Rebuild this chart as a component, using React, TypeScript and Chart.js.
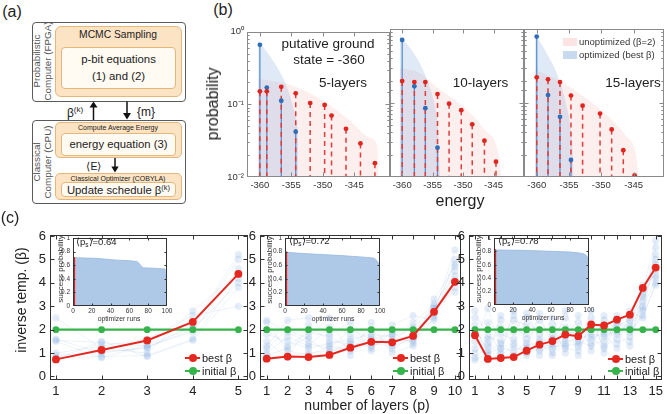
import React, { useEffect, useRef } from 'react';
import { Chart, registerables } from 'chart.js';

Chart.register(...registerables);

const FONT = '"Liberation Sans", Arial, Helvetica, sans-serif';

/* ---------------- panel (b): energy distributions ---------------- */
const energyTicks = [-360, -355, -350, -345];
const probMin = 0.01;
const probMax = 1;
const probTickLabels = ['10\u207B\u00B2', '10\u207B\u00B9', '10\u2070'];

// 5 layers
const b5RedE = [-360, -358.9, -356.6, -354.3, -352, -349.7, -348.6, -346.3, -344, -341.7];
const b5RedP = [0.151, 0.151, 0.174, 0.142, 0.104, 0.098, 0.07, 0.046, 0.029, 0.0155];
const b5BlueE = [-360, -358.9, -356.6, -354.3];
const b5BlueP = [0.66, 0.17, 0.112, 0.042];
const b5RedFillE = [-360.3, -357.5, -354.3, -349.8, -345.6, -342.5, -341.3, -341.15];
const b5RedFillP = [0.227, 0.205, 0.175, 0.11, 0.059, 0.035, 0.026, 0.0101];
const b5BlueFillE = [-360.27, -357.74, -356.16, -355.1, -354.3, -353.94, -353.88];
const b5BlueFillP = [0.77, 0.38, 0.216, 0.122, 0.066, 0.0317, 0.0101];

// 10 layers
const b10RedE = [-360, -358, -356.2, -354.2, -352.3, -350.3, -348.5, -346.5, -344.6];
const b10RedP = [0.198, 0.192, 0.192, 0.132, 0.098, 0.08, 0.0515, 0.031, 0.0161];
const b10BlueE = [-360, -358, -356.2, -354.2];
const b10BlueP = [0.71, 0.168, 0.085, 0.0249];
const b10RedFillE = [-360.4, -357, -354.1, -350.3, -346.4, -344.2, -343.7];
const b10RedFillP = [0.3, 0.25, 0.158, 0.094, 0.043, 0.021, 0.0101];
const b10BlueFillE = [-360.4, -357.4, -355.7, -354.6, -354.1, -353.8];
const b10BlueFillP = [0.83, 0.38, 0.185, 0.089, 0.043, 0.0101];

// 15 layers
const b15RedE = [-360, -358.25, -356.4, -354.7, -352.9, -350.2, -348.4, -346.6, -344.85];
const b15RedP = [0.222, 0.209, 0.192, 0.126, 0.092, 0.072, 0.044, 0.023, 0.0105];
const b15BlueE = [-360, -358.25, -356.4, -354.7];
const b15BlueP = [0.79, 0.128, 0.065, 0.017];
const b15RedFillE = [-360.3, -356.4, -353.8, -349.7, -346.1, -344.5, -344.3];
const b15RedFillP = [0.28, 0.2, 0.142, 0.076, 0.035, 0.017, 0.0101];
const b15BlueFillE = [-360.26, -358.45, -356.9, -355.6, -354.8, -354.4, -354.3];
const b15BlueFillP = [0.87, 0.47, 0.25, 0.11, 0.048, 0.021, 0.0101];

/* ---------------- panel (c): inverse temperature schedules ---------------- */
const betaTicks = [0, 1, 2, 3, 4, 5, 6];

const layers5 = [1, 2, 3, 4, 5];
const best5 = [0.73, 1.13, 1.54, 2.33, 4.38];
const initial5 = [2, 2, 2, 2, 2];
const runs5 = [
  [0.8, 0.85, 0.9, 1.6, 4.2],
  [1.55, 1.45, 1.3, 1.9, 4.6],
  [1.6, 1.0, 1.25, 2.0, 4.0],
  [0.75, 1.5, 0.85, 1.55, 3.8],
  [1.5, 0.8, 1.35, 2.1, 5.0],
  [2.5, 1.2, 1.0, 2.8, 4.4],
  [1.0, 1.3, 1.6, 2.6, 3.0],
  [0.9, 1.05, 1.2, 2.2, 5.2],
];

const layers10 = [1, 2, 3, 4, 5, 6, 7, 8, 9, 10];
const best10 = [0.76, 0.85, 0.83, 0.92, 1.23, 1.48, 1.46, 1.73, 2.76, 4.04];
const initial10 = [2, 2, 2, 2, 2, 2, 2, 2, 2, 2];
const runs10 = [
  [0.8, 0.9, 1.0, 1.1, 1.3, 1.5, 1.5, 1.8, 2.8, 4.1],
  [1.8, 1.5, 1.2, 1.4, 1.6, 1.8, 1.7, 2.0, 2.6, 4.5],
  [2.3, 1.1, 0.9, 1.3, 1.1, 1.4, 1.3, 1.6, 2.9, 3.8],
  [1.2, 2.0, 1.6, 1.0, 1.5, 1.2, 1.9, 1.4, 2.5, 5.0],
  [2.0, 1.3, 1.9, 1.7, 1.2, 1.7, 1.4, 2.3, 3.1, 4.3],
  [1.0, 1.7, 1.3, 2.1, 1.8, 1.3, 1.6, 1.5, 2.7, 5.4],
  [1.5, 0.8, 2.2, 1.5, 1.4, 2.0, 1.2, 1.7, 3.0, 3.6],
  [2.4, 1.9, 1.4, 1.2, 2.0, 1.6, 1.8, 2.1, 2.9, 4.8],
  [1.3, 2.4, 2.5, 1.8, 2.3, 1.1, 2.2, 2.6, 2.4, 4.0],
  [0.9, 1.2, 1.7, 2.5, 0.9, 2.3, 1.0, 1.3, 3.3, 4.7],
];

const layers15 = [1, 2, 3, 4, 5, 6, 7, 8, 9, 10, 11, 12, 13, 14, 15];
const best15 = [1.76, 0.75, 0.79, 0.83, 1.1, 1.36, 1.51, 1.79, 1.72, 2.22, 2.18, 2.43, 2.64, 3.78, 4.65];
const initial15 = [2, 2, 2, 2, 2, 2, 2, 2, 2, 2, 2, 2, 2, 2, 2];
const runs15 = [
  [0.7, 1.0, 1.2, 1.1, 1.3, 1.5, 1.6, 1.9, 1.8, 2.0, 2.1, 2.2, 2.4, 3.2, 4.8],
  [1.9, 1.4, 0.9, 1.3, 1.0, 1.2, 1.4, 1.5, 1.6, 1.8, 1.7, 2.0, 2.1, 2.9, 4.2],
  [2.8, 1.7, 1.5, 0.9, 1.6, 1.1, 1.3, 1.3, 1.4, 1.6, 1.9, 1.8, 2.2, 3.0, 5.5],
  [1.2, 2.3, 1.8, 1.6, 0.9, 1.4, 1.0, 1.7, 2.0, 1.4, 1.5, 2.3, 1.9, 2.6, 3.9],
  [2.2, 0.9, 2.6, 2.0, 1.8, 0.9, 1.8, 1.2, 1.1, 2.2, 1.3, 1.6, 2.5, 3.4, 4.5],
  [1.5, 2.9, 1.2, 2.4, 2.2, 2.0, 0.9, 2.1, 1.5, 1.3, 2.4, 1.4, 1.7, 2.8, 5.0],
  [0.8, 1.3, 2.1, 1.4, 2.5, 1.8, 2.2, 1.0, 2.3, 1.7, 1.2, 2.6, 1.5, 3.7, 5.8],
  [2.5, 2.0, 1.0, 2.8, 1.4, 2.4, 1.6, 2.5, 0.9, 2.5, 1.8, 1.2, 2.8, 2.5, 4.0],
  [1.0, 1.6, 2.4, 1.9, 2.7, 1.6, 2.5, 1.4, 2.6, 1.1, 2.6, 1.9, 1.3, 3.5, 5.2],
  [2.0, 1.1, 1.4, 2.6, 1.2, 2.7, 1.2, 2.8, 1.3, 2.8, 1.0, 2.4, 2.0, 3.9, 4.3],
];

/* ---------------- insets: success probability per optimizer run ---------------- */
const runTicks = [0, 20, 40, 60, 80, 100];
const succTicks = [0, 0.2, 0.4, 0.6, 0.8, 1];
const bestRunX = [0, 2.5];

const runsX1 = [0, 25, 33, 45, 60, 68, 70, 73, 75, 85, 97, 98, 99, 100];
const succ1 = [0.71, 0.7, 0.69, 0.675, 0.665, 0.655, 0.63, 0.58, 0.56, 0.555, 0.545, 0.54, 0.27, 0.26];
const bestSucc1 = 0.72;

const runsX2 = [0, 20, 40, 60, 80, 90, 94, 97, 99, 100];
const succ2 = [0.79, 0.77, 0.755, 0.74, 0.72, 0.71, 0.7, 0.66, 0.62, 0.55];
const bestSucc2 = 0.8;

const runsX3 = [0, 30, 60, 80, 90, 95, 97, 98, 100];
const succ3 = [0.82, 0.815, 0.8, 0.79, 0.775, 0.76, 0.74, 0.72, 0.63];
const bestSucc3 = 0.83;

/* ---------------- chart helpers ---------------- */
type Pad = { l: number; r: number; t: number; b: number };
type Area = { x: number; y: number; w: number; h: number };

const pts = (xs: number[], ys: number[]) => xs.map((x, i) => ({ x, y: ys[i] }));
const NO_GRID = { display: false, drawTicks: false, tickLength: 0 };

const framePlugin = {
  id: 'frame',
  beforeDatasetsDraw(chart: any, _a: any, o: any) {
    if (!o || !o.bg) return;
    const { ctx, chartArea: a } = chart;
    ctx.save();
    ctx.fillStyle = o.bg;
    ctx.fillRect(a.left, a.top, a.right - a.left, a.bottom - a.top);
    ctx.restore();
  },
  afterDatasetsDraw(chart: any, _a: any, o: any) {
    const { ctx, chartArea: a, scales } = chart;
    const L = Math.round(a.left) + 0.5;
    const R = Math.round(a.right) - 0.5;
    const T = Math.round(a.top) + 0.5;
    const B = Math.round(a.bottom) - 0.5;
    ctx.save();
    ctx.strokeStyle = o.color;
    ctx.lineWidth = 1;
    ctx.beginPath();
    const xs = scales.x;
    const ys = scales.y;
    xs.ticks.forEach((t: any) => {
      const p = Math.round(xs.getPixelForValue(t.value)) + 0.5;
      if (p < L - 0.5 || p > R + 0.5) return;
      ctx.moveTo(p, B);
      ctx.lineTo(p, B - o.len);
      ctx.moveTo(p, T);
      ctx.lineTo(p, T + o.len);
    });
    ys.ticks.forEach((t: any) => {
      const p = Math.round(ys.getPixelForValue(t.value)) + 0.5;
      if (p < T - 0.5 || p > B + 0.5) return;
      let len = o.len;
      if (o.log) {
        const lg = Math.log10(t.value);
        if (Math.abs(lg - Math.round(lg)) > 1e-6) len = o.len * 0.55;
      }
      ctx.moveTo(L, p);
      ctx.lineTo(L + len, p);
      ctx.moveTo(R, p);
      ctx.lineTo(R - len, p);
    });
    ctx.stroke();
    ctx.strokeRect(L, T, R - L, B - T);
    ctx.restore();
  },
};

function baseOptions(pad: Pad, frame: any) {
  return {
    responsive: false,
    animation: false,
    events: [],
    layout: { padding: { left: 0, right: pad.r, top: pad.t, bottom: 0 }, autoPadding: false },
    plugins: { legend: { display: false }, tooltip: { enabled: false }, frame },
  };
}

function energyConfig(
  redE: number[], redP: number[], blueE: number[], blueP: number[],
  redFE: number[], redFP: number[], blueFE: number[], blueFP: number[],
  xMin: number, xMax: number, showY: boolean, pad: Pad,
) {
  const stems = (xs: number[], ys: number[]) =>
    xs.flatMap((x, i) => [{ x, y: ys[i] }, { x, y: probMin }, { x, y: null as any }]);
  return {
    type: 'line',
    data: {
      datasets: [
        { data: pts(redFE, redFP), fill: 'start', backgroundColor: 'rgba(250,195,195,0.27)', borderWidth: 0, pointRadius: 0, cubicInterpolationMode: 'monotone', order: 20 },
        { data: pts(blueFE, blueFP), fill: 'start', backgroundColor: 'rgba(97,149,212,0.2)', borderWidth: 0, pointRadius: 0, cubicInterpolationMode: 'monotone', order: 19 },
        { data: stems(blueE, blueP), borderColor: '#5b8fd0', borderWidth: 1.3, pointRadius: 0, fill: false, spanGaps: false, order: 10 },
        { data: stems(redE, redP), borderColor: '#e23a36', borderWidth: 1.5, borderDash: [5, 4], pointRadius: 0, fill: false, spanGaps: false, order: 9 },
        { data: pts(blueE, blueP), showLine: false, pointRadius: 2.4, pointBackgroundColor: '#2f6db8', pointBorderWidth: 0, order: 2 },
        { data: pts(redE, redP), showLine: false, pointRadius: 2.4, pointBackgroundColor: '#e0241e', pointBorderWidth: 0, order: 1 },
      ],
    },
    options: {
      ...baseOptions(pad, { color: '#8a8a8a', len: 4, log: true }),
      scales: {
        x: {
          type: 'linear', min: xMin, max: xMax,
          grid: NO_GRID, border: { display: false },
          afterBuildTicks: (s: any) => { s.ticks = energyTicks.map((v) => ({ value: v })); },
          afterFit: (s: any) => { s.height = pad.b; },
          ticks: { font: { family: FONT, size: 9.5 }, color: '#333', padding: 3, maxRotation: 0, autoSkip: false, callback: (v: any) => String(v) },
        },
        y: {
          type: 'logarithmic', min: probMin, max: probMax,
          grid: NO_GRID, border: { display: false },
          afterFit: (s: any) => { s.width = pad.l; },
          ticks: {
            display: showY, autoSkip: false, font: { family: FONT, size: 9.5 }, color: '#333', padding: 3,
            callback: (v: any) => {
              const lg = Math.log10(Number(v));
              const r = Math.round(lg);
              return Math.abs(lg - r) < 1e-6 ? probTickLabels[r + 2] : '';
            },
          },
        },
      },
    },
    plugins: [framePlugin],
  };
}

function betaConfig(layers: number[], best: number[], initial: number[], runs: number[][], xMin: number, xMax: number, oddOnly: boolean, pad: Pad) {
  return {
    type: 'line',
    data: {
      datasets: [
        ...runs.map((r) => ({
          data: pts(layers, r), borderColor: 'rgba(120,165,220,0.13)', borderWidth: 1,
          pointRadius: 3.6, pointBackgroundColor: 'rgba(120,165,220,0.2)', pointBorderWidth: 0, order: 30,
        })),
        { data: pts(layers, initial), borderColor: '#36b34b', borderWidth: 2.3, pointRadius: 3.4, pointBackgroundColor: '#36b34b', pointBorderWidth: 0, order: 2 },
        { data: pts(layers, best), borderColor: '#e5281f', borderWidth: 2, pointRadius: 3.9, pointBackgroundColor: '#e5281f', pointBorderWidth: 0, order: 1 },
      ],
    },
    options: {
      ...baseOptions(pad, { color: '#333', len: 4 }),
      scales: {
        x: {
          type: 'linear', min: xMin, max: xMax,
          grid: NO_GRID, border: { display: false },
          afterBuildTicks: (s: any) => { s.ticks = layers.map((v) => ({ value: v })); },
          afterFit: (s: any) => { s.height = pad.b; },
          ticks: {
            font: { family: FONT, size: 13 }, color: '#222', padding: 4, maxRotation: 0, autoSkip: false,
            callback: (v: any) => (oddOnly && Number(v) % 2 === 0 ? '' : String(v)),
          },
        },
        y: {
          type: 'linear', min: -0.15, max: 6.05,
          grid: NO_GRID, border: { display: false },
          afterBuildTicks: (s: any) => { s.ticks = betaTicks.map((v) => ({ value: v })); },
          afterFit: (s: any) => { s.width = pad.l; },
          ticks: { font: { family: FONT, size: 13 }, color: '#222', padding: 4, autoSkip: false, callback: (v: any) => String(v) },
        },
      },
    },
    plugins: [framePlugin],
  };
}

function insetConfig(xs: number[], ys: number[], best: number, pad: Pad) {
  return {
    type: 'line',
    data: {
      datasets: [
        { data: pts(xs, ys), fill: 'origin', backgroundColor: 'rgba(160,192,228,0.85)', borderColor: 'rgba(150,185,225,1)', borderWidth: 0.8, pointRadius: 0, order: 5 },
        { data: pts(bestRunX, [best, best]), fill: 'origin', backgroundColor: '#e8231c', borderWidth: 0, pointRadius: 0, order: 1 },
      ],
    },
    options: {
      ...baseOptions(pad, { color: '#333', len: 2, bg: '#ffffff' }),
      scales: {
        x: {
          type: 'linear', min: 0, max: 100,
          grid: NO_GRID, border: { display: false },
          afterBuildTicks: (s: any) => { s.ticks = runTicks.map((v) => ({ value: v })); },
          afterFit: (s: any) => { s.height = pad.b; },
          ticks: { font: { family: FONT, size: 6.5 }, color: '#333', padding: 1, maxRotation: 0, autoSkip: false, callback: (v: any) => String(v) },
        },
        y: {
          type: 'linear', min: 0, max: 1,
          grid: NO_GRID, border: { display: false },
          afterBuildTicks: (s: any) => { s.ticks = succTicks.map((v) => ({ value: v })); },
          afterFit: (s: any) => { s.width = pad.l; },
          ticks: { font: { family: FONT, size: 6.5 }, color: '#333', padding: 3, autoSkip: false, callback: (v: any) => String(v) },
        },
      },
    },
    plugins: [framePlugin],
  };
}

function ChartCanvas({ area, pad, build }: { area: Area; pad: Pad; build: () => any }) {
  const ref = useRef<HTMLCanvasElement>(null);
  useEffect(() => {
    const chart = new Chart(ref.current as HTMLCanvasElement, build());
    return () => chart.destroy();
  }, []);
  const w = area.w + pad.l + pad.r;
  const h = area.h + pad.t + pad.b;
  return (
    <canvas
      ref={ref}
      width={w}
      height={h}
      style={{ position: 'absolute', left: area.x - pad.l, top: area.y - pad.t, width: w, height: h }}
    />
  );
}

/* ---------------- text helpers ---------------- */
function Txt({ x, y, size, children, anchor = 'middle', rot = false, color = '#222' }: any) {
  const tx = anchor === 'start' ? '0' : anchor === 'end' ? '-100%' : '-50%';
  return (
    <div
      style={{
        position: 'absolute', left: x, top: y, fontSize: size, lineHeight: 1, whiteSpace: 'nowrap', color,
        transform: `translate(${tx},-50%)${rot ? ' rotate(-90deg)' : ''}`,
      }}
    >
      {children}
    </div>
  );
}

function Rect({ x, y, w, h, bg, border, r }: any) {
  return (
    <div
      style={{
        position: 'absolute', left: x, top: y, width: w, height: h, background: bg,
        border: border ? `1px solid ${border}` : 'none', borderRadius: r, boxSizing: 'border-box',
      }}
    />
  );
}

const ORANGE = '#fce3c3';
const ORANGE_B = '#e5b77a';
const INNER = '#fffaf2';

function DiagramA() {
  return (
    <>
      <Rect x={31.5} y={21.5} w={154} h={80} bg="#fff" border="#5a5a5a" r={4} />
      <Rect x={55} y={26} w={127} h={71} bg={ORANGE} border={ORANGE_B} r={6} />
      <Rect x={61} y={46.5} w={115} h={42} bg={INNER} border={ORANGE_B} r={4} />
      <Rect x={31.5} y={120} w={154} h={84} bg="#fff" border="#5a5a5a" r={4} />
      <Rect x={55} y={121.5} w={127} h={36.5} bg={ORANGE} border={ORANGE_B} r={5} />
      <Rect x={61} y={132.5} w={115} h={23.5} bg={INNER} border={ORANGE_B} r={4} />
      <Rect x={55} y={172.5} w={127} h={27} bg={ORANGE} border={ORANGE_B} r={5} />
      <Rect x={61} y={181.5} w={115} h={15.5} bg={INNER} border={ORANGE_B} r={4} />
      <svg style={{ position: 'absolute', left: 0, top: 0 }} width={200} height={210}>
        <line x1={93.5} y1={120} x2={93.5} y2={106} stroke="#111" strokeWidth={1.5} />
        <polygon points="89.5,107.5 97.5,107.5 93.5,101.5" fill="#111" />
        <line x1={127} y1={101.5} x2={127} y2={114} stroke="#111" strokeWidth={1.5} />
        <polygon points="123,113 131,113 127,119.5" fill="#111" />
        <line x1={115} y1={158} x2={115} y2={167.5} stroke="#111" strokeWidth={1.5} />
        <polygon points="111.3,166.5 118.7,166.5 115,172.5" fill="#111" />
      </svg>
      <Txt x={12} y={12} size={16}>(a)</Txt>
      <Txt x={118} y={35} size={10.3}>MCMC Sampling</Txt>
      <Txt x={118.5} y={60} size={11.4}>p-bit equations</Txt>
      <Txt x={118.5} y={76.5} size={11.4}>(1) and (2)</Txt>
      <Txt x={37} y={61} size={9.8} rot color="#555">Probabilistic</Txt>
      <Txt x={48} y={61} size={9.8} rot color="#555">Computer (FPGA)</Txt>
      <Txt x={75} y={112} size={12}>
        {'\u03B2'}<span style={{ fontSize: 8, verticalAlign: 5 }}>(k)</span>
      </Txt>
      <Txt x={146} y={112} size={12}>{'{m}'}</Txt>
      <Txt x={118} y={127} size={7}>Compute Average Energy</Txt>
      <Txt x={118.5} y={145} size={11.3}>energy equation (3)</Txt>
      <Txt x={94} y={165.5} size={10.5}>{'\u27E8E\u27E9'}</Txt>
      <Txt x={118} y={177.5} size={7}>Classical Optimizer (COBYLA)</Txt>
      <Txt x={118.5} y={189.5} size={11.3}>
        Update schedule {'\u03B2'}<span style={{ fontSize: 7.5, verticalAlign: 4 }}>(k)</span>
      </Txt>
      <Txt x={37} y={162} size={9.8} rot color="#555">Classical</Txt>
      <Txt x={48} y={162} size={9.8} rot color="#555">Computer (CPU)</Txt>
    </>
  );
}

function LegendC({ x, y1, y2 }: { x: number; y1: number; y2: number }) {
  const item = (y: number, color: string, label: string) => (
    <>
      <div style={{ position: 'absolute', left: x, top: y - 1, width: 15, height: 2, background: color }} />
      <div style={{ position: 'absolute', left: x + 3.5, top: y - 4, width: 8, height: 8, borderRadius: '50%', background: color }} />
      <Txt x={x + 17} y={y} size={11} anchor="start">{label}</Txt>
    </>
  );
  return (
    <>
      {item(y1, '#e5281f', 'best \u03B2')}
      {item(y2, '#36b34b', 'initial \u03B2')}
    </>
  );
}

function PsLabel({ x, y, v }: { x: number; y: number; v: string }) {
  return (
    <Txt x={x} y={y} size={9.5} anchor="start">
      {'\u27E8p'}<span style={{ fontSize: 6.5, verticalAlign: -2 }}>s</span>{'\u27E9=' + v}
    </Txt>
  );
}

const padB1: Pad = { l: 40, r: 4, t: 6, b: 22 };
const padB2: Pad = { l: 2, r: 4, t: 6, b: 22 };
const padB3: Pad = { l: 2, r: 3, t: 6, b: 22 };
const padC: Pad = { l: 30, r: 8, t: 4, b: 22 };
const padC3: Pad = { l: 30, r: 2, t: 4, b: 22 };
const padI: Pad = { l: 18, r: 8, t: 3, b: 12 };

export default function App() {
  return (
    <div
      style={{
        position: 'absolute', left: 0, top: 0, width: 667, height: 414, background: '#fff',
        fontFamily: FONT, overflow: 'hidden', color: '#222',
      }}
    >
      <DiagramA />

      {/* panel (b) */}
      <ChartCanvas area={{ x: 247, y: 29, w: 143, h: 148 }} pad={padB1}
        build={() => energyConfig(b5RedE, b5RedP, b5BlueE, b5BlueP, b5RedFillE, b5RedFillP, b5BlueFillE, b5BlueFillP, -362.05, -339.3, true, padB1)} />
      <ChartCanvas area={{ x: 390, y: 29, w: 134, h: 148 }} pad={padB2}
        build={() => energyConfig(b10RedE, b10RedP, b10BlueE, b10BlueP, b10RedFillE, b10RedFillP, b10BlueFillE, b10BlueFillP, -362.0, -340.0, false, padB2)} />
      <ChartCanvas area={{ x: 524, y: 29, w: 140, h: 148 }} pad={padB3}
        build={() => energyConfig(b15RedE, b15RedP, b15BlueE, b15BlueP, b15RedFillE, b15RedFillP, b15BlueFillE, b15BlueFillP, -361.97, -340.3, false, padB3)} />

      <Txt x={223} y={10} size={16}>(b)</Txt>
      <Txt x={213} y={104} size={16} rot>probability</Txt>
      <Txt x={460} y={201} size={16}>energy</Txt>
      <Txt x={328} y={44} size={13.5}>putative ground</Txt>
      <Txt x={329} y={59.5} size={13.5}>state = -360</Txt>
      <Txt x={343} y={82.5} size={13.5}>5-layers</Txt>
      <Txt x={480.5} y={82.5} size={13.5}>10-layers</Txt>
      <Txt x={633} y={83} size={13.5}>15-layers</Txt>
      <div style={{ position: 'absolute', left: 562.5, top: 38, width: 14, height: 8, background: '#fde4e4' }} />
      <div style={{ position: 'absolute', left: 562.5, top: 50.5, width: 14, height: 8, background: '#c8daf0' }} />
      <Txt x={579} y={42.3} size={9.5} anchor="start" color="#333">unoptimized ({'\u03B2'}=2)</Txt>
      <Txt x={579} y={54.7} size={9.5} anchor="start" color="#333">optimized (best {'\u03B2'})</Txt>

      {/* panel (c) */}
      <ChartCanvas area={{ x: 50, y: 227, w: 198, h: 153 }} pad={padC}
        build={() => betaConfig(layers5, best5, initial5, runs5, 0.87, 5.21, false, padC)} />
      <ChartCanvas area={{ x: 260, y: 227, w: 201, h: 153 }} pad={padC}
        build={() => betaConfig(layers10, best10, initial10, runs10, 0.68, 10.29, false, padC)} />
      <ChartCanvas area={{ x: 469, y: 227, w: 196, h: 153 }} pad={padC3}
        build={() => betaConfig(layers15, best15, initial15, runs15, 0.54, 15.5, true, padC3)} />

      <ChartCanvas area={{ x: 73, y: 234, w: 94, h: 72 }} pad={padI}
        build={() => insetConfig(runsX1, succ1, bestSucc1, padI)} />
      <ChartCanvas area={{ x: 285, y: 234, w: 95, h: 72 }} pad={padI}
        build={() => insetConfig(runsX2, succ2, bestSucc2, padI)} />
      <ChartCanvas area={{ x: 494, y: 234, w: 95, h: 71 }} pad={padI}
        build={() => insetConfig(runsX3, succ3, bestSucc3, padI)} />

      <PsLabel x={76} y={243} v="0.64" />
      <PsLabel x={289} y={242} v="0.72" />
      <PsLabel x={498} y={242} v="0.78" />
      <Txt x={60.5} y={269} size={8} rot color="#333">success probability</Txt>
      <Txt x={270} y={270} size={8} rot color="#333">success probability</Txt>
      <Txt x={479} y={269} size={8} rot color="#333">success probability</Txt>
      <Txt x={119} y={318.5} size={6.8} color="#333">optimizer runs</Txt>
      <Txt x={333} y={318.5} size={6.8} color="#333">optimizer runs</Txt>
      <Txt x={543} y={318} size={6.8} color="#333">optimizer runs</Txt>

      <LegendC x={185} y1={358} y2={371} />
      <LegendC x={393} y1={358} y2={371} />
      <LegendC x={608} y1={359} y2={371} />

      <Txt x={10} y={218} size={16}>(c)</Txt>
      <Txt x={20.5} y={300} size={14} rot>inverse temp. ({'\u03B2'})</Txt>
      <Txt x={367} y={405} size={14}>number of layers (p)</Txt>
    </div>
  );
}
